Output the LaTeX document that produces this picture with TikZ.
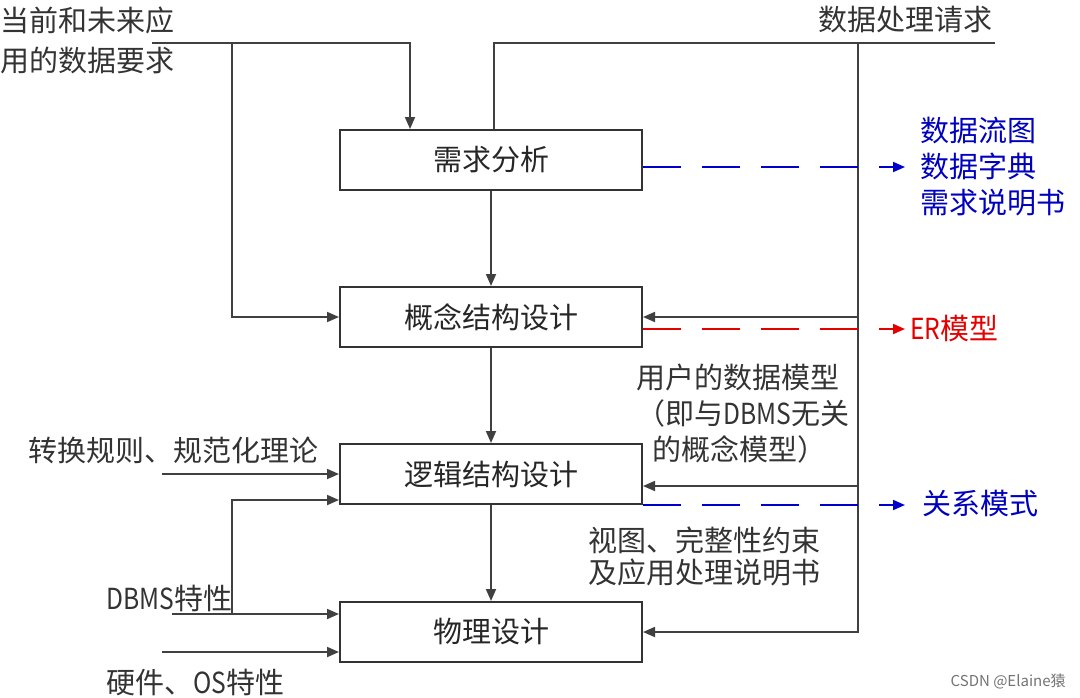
\documentclass[tikz,border=0pt]{standalone}
\usepackage{fontspec}
\setmainfont{Noto Sans CJK SC}
\newfontfamily\narrowlatin[FakeStretch=0.85]{Noto Sans CJK SC}
\usetikzlibrary{arrows.meta,calc}

\begin{document}
\begin{tikzpicture}[x=0.5pt,y=-0.5pt,
    font=\fontsize{14.5}{18}\selectfont,
    stagebox/.style={draw=black!80,line width=1pt,minimum width=151pt,minimum height=30pt,inner sep=0pt,text=black!85},
    label/.style={inner sep=0pt,text=black!80,align=left},
    link/.style={draw=black!75,line width=0.9pt},
    arrow/.style={link,-{Triangle[length=6pt,width=5pt]}},
    output/.style={line width=0.9pt,dash pattern=on 19pt off 10.5pt,-{Triangle[length=6pt,width=5pt]}}]
  \useasboundingbox (0,0) rectangle (1080,697);

  % design stages
  \node[stagebox] (req) at (491,160) {需求分析};
  \node[stagebox] (concept) at (491,317) {概念结构设计};
  \node[stagebox] (logic) at (491,474) {逻辑结构设计};
  \node[stagebox] (phys) at (491,632) {物理设计};

  \draw[arrow] (req.south) -- (concept.north);
  \draw[arrow] (concept.south) -- (logic.north);
  \draw[arrow] (logic.south) -- (phys.north);

  % application data requirements
  \node[label,anchor=west,font=\fontsize{14.5}{20}\selectfont] (needs) at (0,40) {当前和未来应\\用的数据要求};
  \coordinate (needsIn) at (152,43);
  \coordinate (needsSplit) at (232,43);
  \draw[arrow] (needsIn) -| ([xshift=-40.5pt]req.north);
  \draw[arrow] (needsSplit) |- (concept.west);

  % processing requests
  \node[label,anchor=west] (procReq) at (818,20) {数据处理请求};
  \coordinate (procEnd) at (995,43);
  \coordinate (busTop) at (858,43);
  \coordinate (logicIn) at ([yshift=-6pt]logic.east);
  \draw[link] ([xshift=1.5pt]req.north) |- (procEnd);
  \draw[arrow] (busTop) |- (phys.east);
  \draw[arrow] (busTop |- concept.east) -- (concept.east);
  \draw[arrow] (busTop |- logicIn) -- (logicIn);

  % outputs of each stage
  \coordinate (outReq) at (905,167);
  \coordinate (outER) at (905,329);
  \coordinate (outRel) at (905,505);
  \draw[output,blue!80!black] ([yshift=-3.5pt]req.east) -- (outReq);
  \draw[output,red!90!black] ([yshift=-6pt]concept.east) -- (outER);
  \draw[output,blue!80!black] ([yshift=-15.5pt]logic.east) -- (outRel);
  \node[label,anchor=west,text=blue!75!black] (reqDocs) at (920,167) {数据流图\\数据字典\\需求说明书};
  \node[label,anchor=west,text=red!90!black] (erModel) at (910,328) {{\narrowlatin ER}模型};
  \node[label,anchor=west,text=blue!75!black] (relModel) at (922,503) {关系模式};

  \node[label,anchor=west] (userModel) at (636,414) {用户的数据模型\\（即与{\narrowlatin DBMS}无关\\\hspace*{8pt}的概念模型）};
  \node[label,anchor=west,font=\fontsize{14.5}{16}\selectfont] (views) at (588,556) {视图、完整性约束\\及应用处理说明书};

  % rules and system features
  \node[label,anchor=west] (rules) at (28,450) {转换规则、规范化理论};
  \node[label,anchor=west] (dbms) at (106,598) {{\narrowlatin DBMS}特性};
  \node[label,anchor=west] (hw) at (106,682) {硬件、{\narrowlatin OS}特性};
  \coordinate (rulesIn) at (162,474);
  \coordinate (dbmsIn) at (172,614);
  \coordinate (dbmsSplit) at (232,614);
  \coordinate (hwIn) at (162,652);
  \draw[arrow] (rulesIn) -- (logic.west);
  \draw[arrow] (dbmsIn) -- ([yshift=9pt]phys.west);
  \draw[arrow] (dbmsSplit) |- ([yshift=-13pt]logic.west);
  \draw[arrow] (hwIn) -- ([yshift=-10pt]phys.west);

  \node[anchor=east,inner sep=0pt,text=black!55,font=\fontsize{7.5}{9}\selectfont] (mark) at (1066,681) {CSDN @Elaine猿};
\end{tikzpicture}
\end{document}
